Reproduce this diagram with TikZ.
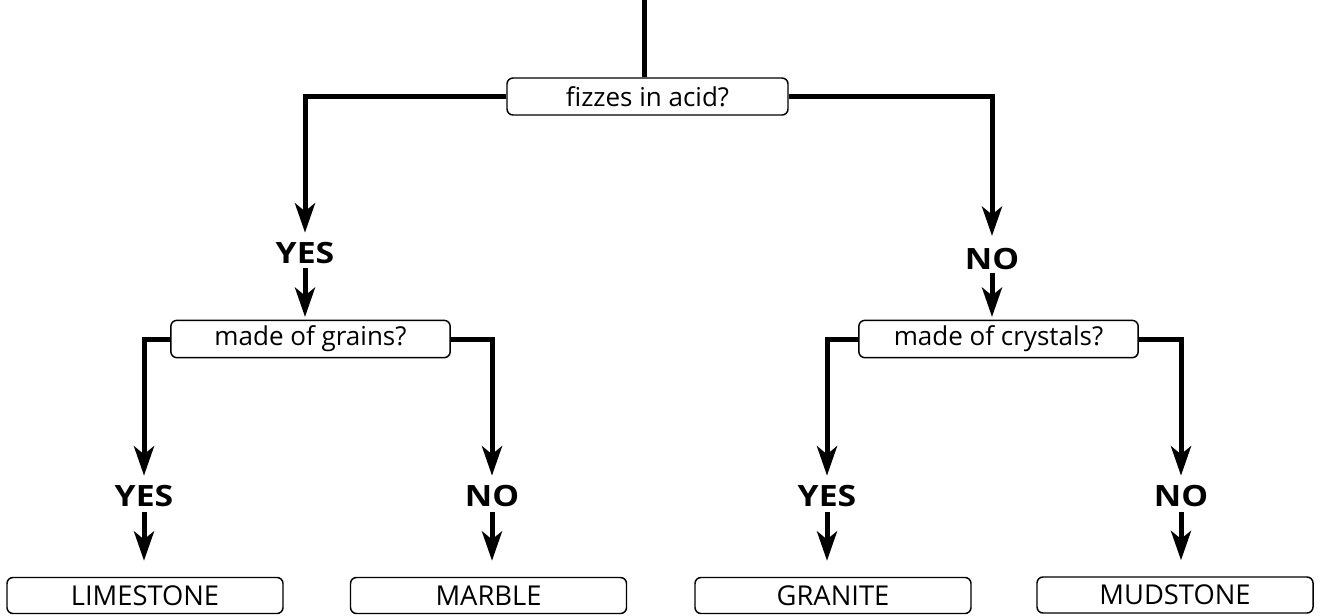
\documentclass[tikz,border=0pt]{standalone}
\usepackage{fontspec}
\setmainfont{Open Sans}
\newfontfamily\answerfont{Open Sans}[FakeStretch=1.15]
\usetikzlibrary{arrows.meta}

\begin{document}
\begin{tikzpicture}[x=0.75pt, y=-0.75pt,
  flow/.style={line width=3.75pt},
  flowarrow/.style={flow, -{Stealth[length=22pt, width=15pt, inset=6pt]}},
  qbox/.style={draw, line width=1.1pt, rounded corners=4.5pt, fill=white,
    inner sep=0pt, font=\fontsize{19.5}{22}\selectfont},
  question/.style={qbox, minimum width=209.5pt, minimum height=28pt},
  rock/.style={qbox, minimum width=207pt, minimum height=27pt,
    font=\fontsize{20.5}{23}\selectfont},
  answer/.style={inner sep=0pt, font=\answerfont\bfseries\fontsize{22}{25}\selectfont}
]
\useasboundingbox (0,0) rectangle (1320,615);

% question boxes
\node[question, minimum width=210.75pt, minimum height=27.75pt] (fizz) at (647.5,96.5) {fizzes in acid?};
\node[question] (grains)   at (310.5,339) {made of grains?};
\node[question] (crystals) at (998.5,339) {made of crystals?};

% answer labels
\node[answer] (yesA) at (305,253) {YES};
\node[answer] (noA)  at (992,259) {NO};
\node[answer] (yesB) at (144,496) {YES};
\node[answer] (noB)  at (492,496) {NO};
\node[answer] (yesC) at (827,496) {YES};
\node[answer] (noC)  at (1181,496) {NO};

% rock boxes
\node[rock] (lime)    at (145,595.5)   {LIMESTONE};
\node[rock] (marble)  at (488.5,595.5) {MARBLE};
\node[rock] (granite) at (833,595.5)   {GRANITE};
\node[rock] (mud)     at (1175,595)    {MUDSTONE};

% entry line
\coordinate (entry) at (644,0);
\draw[flow] (entry) -- (entry |- fizz.north);

% first question
\draw[flowarrow, shorten >=7pt] (fizz.west) -| (yesA.north);
\draw[flowarrow, shorten >=9pt] (fizz.east) -| (noA.north);
\draw[flowarrow, shorten <=3pt, shorten >=2pt] (yesA.south) -- (yesA.south |- grains.north);
\draw[flowarrow, shorten <=2pt, shorten >=2pt] (noA.south) -- (noA.south |- crystals.north);

% second questions
\draw[flowarrow, shorten >=7pt] (grains.west) -| (yesB.north);
\draw[flowarrow, shorten >=7pt] (grains.east) -| (noB.north);
\draw[flowarrow, shorten >=7pt] (crystals.west) -| (yesC.north);
\draw[flowarrow, shorten >=7pt] (crystals.east) -| (noC.north);

% to the rocks
\draw[flowarrow, shorten <=4pt, shorten >=12pt] (yesB.south) -- (yesB.south |- lime.north);
\draw[flowarrow, shorten <=4pt, shorten >=12pt] (noB.south)  -- (noB.south |- marble.north);
\draw[flowarrow, shorten <=4pt, shorten >=12pt] (yesC.south) -- (yesC.south |- granite.north);
\draw[flowarrow, shorten <=4pt, shorten >=12pt] (noC.south)  -- (noC.south |- mud.north);
\end{tikzpicture}
\end{document}
